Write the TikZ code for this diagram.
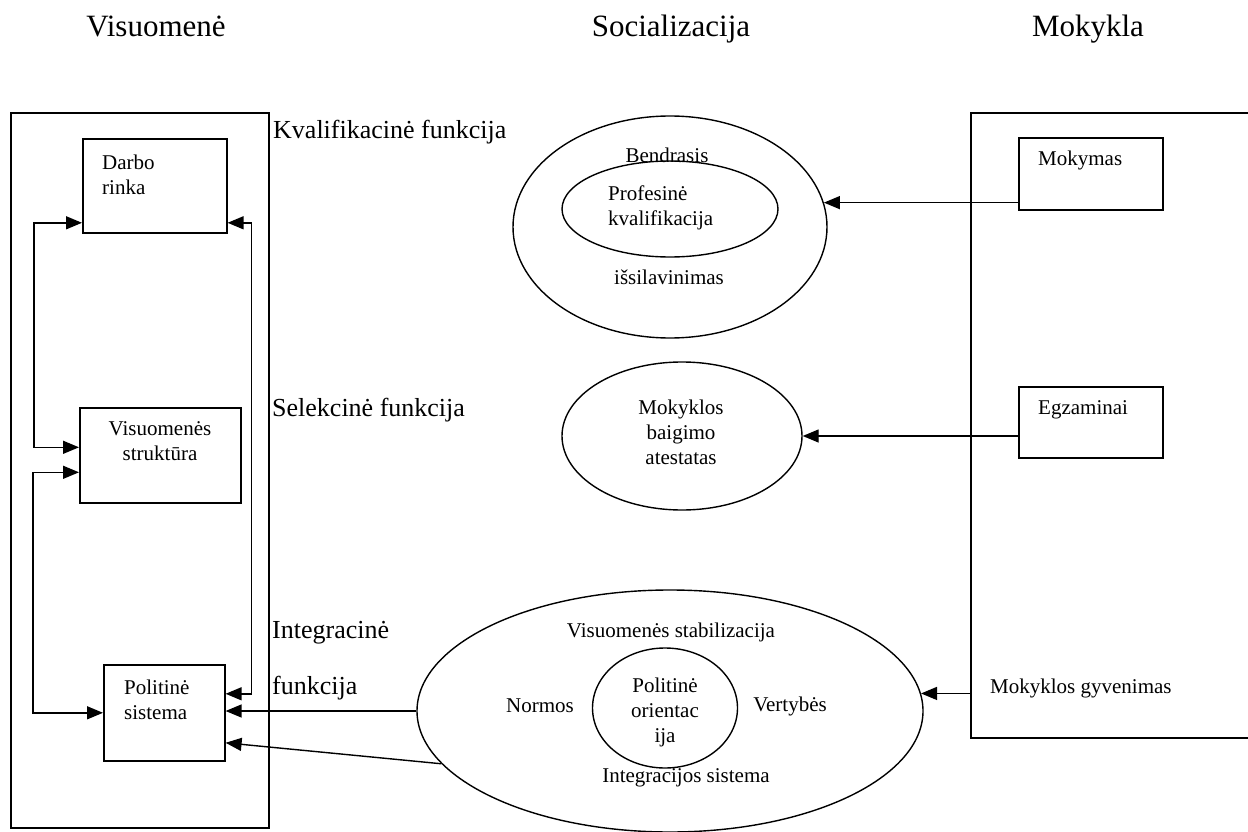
\documentclass[tikz,border=0pt]{standalone}
\usepackage{fontspec}
\setmainfont{Liberation Serif}
\usetikzlibrary{shapes.geometric,arrows.meta}
\begin{document}
\begin{tikzpicture}[x=1pt,y=-1pt,
 box/.style={draw, line width=1.6pt, inner sep=0pt, anchor=north west},
 oval/.style={draw, ellipse, line width=1.4pt, inner sep=0pt},
 body/.style={font=\fontsize{21}{25}\selectfont, inner sep=0pt},
 side/.style={font=\fontsize{26}{30}\selectfont, inner sep=0pt, anchor=west},
 ttl/.style={font=\fontsize{31}{36}\selectfont, inner sep=0pt, anchor=base},
 arr/.style={line width=1.4pt, -{Triangle[length=16pt,width=13pt]}},
 darr/.style={line width=1.4pt, {Triangle[length=16pt,width=13pt]}-{Triangle[length=16pt,width=13pt]}},
]
\useasboundingbox (0,0) rectangle (1248,832);
\clip (0,0) rectangle (1248,832);

% titles
\node[ttl] (t1) at (156,37) {Visuomenė};
\node[ttl] (t2) at (671,37) {Socializacija};
\node[ttl] (t3) at (1088,37) {Mokykla};

% boxes
\node[box, minimum width=258pt, minimum height=715pt] (lb) at (10,112) {};
\node[box, minimum width=144pt, minimum height=94pt] (darbo) at (82,138) {};
\node[box, minimum width=161pt, minimum height=95pt] (vs) at (79,407) {};
\node[box, minimum width=121pt, minimum height=96pt] (pol) at (103,664) {};
\node[box, minimum width=320pt, minimum height=625pt] (rb) at (970,112) {};
\node[box, minimum width=144pt, minimum height=72pt] (mok) at (1018,137) {};
\node[box, minimum width=144pt, minimum height=71pt] (egz) at (1018,386) {};

% ellipses
\node[oval, minimum width=314pt, minimum height=222pt] (bend) at (670,227) {};
\node[oval, minimum width=216pt, minimum height=96pt] (prof) at (670,209) {};
\node[oval, minimum width=240pt, minimum height=148pt] (mid) at (682,436) {};
\node[oval, minimum width=506pt, minimum height=242pt] (integ) at (670,711) {};
\node[oval, minimum width=145pt, minimum height=120pt] (porient) at (665,708) {};

% side labels
\node[side] (kf) at (273,132) {Kvalifikacinė funkcija};
\node[side] (sf) at (272,410) {Selekcinė funkcija};
\node[side] (if1) at (272,633) {Integracinė};
\node[side] (if2) at (272,688) {funkcija};

% texts
\node[body, align=left, anchor=west] (dt) at (102,175) {Darbo\\rinka};
\node[body, align=center] (vst) at (160,441) {Visuomenės\\struktūra};
\node[body, align=left, anchor=west] (pst) at (124,700) {Politinė\\sistema};
\node[body, anchor=west] (mt) at (1038,160) {Mokymas};
\node[body, anchor=west] (et) at (1038,410) {Egzaminai};
\node[body] (bt) at (667,155) {Bendrasis};
\node[body, align=left, anchor=west] (pkt) at (608,208) {Profesinė\\kvalifikacija};
\node[body] (it) at (669,277) {išsilavinimas};
\node[body, align=center] (mbt) at (681,432) {Mokyklos\\baigimo\\atestatas};
\node[body] (vsz) at (671,632) {Visuomenės stabilizacija};
\node[body] (nt) at (540,706) {Normos};
\node[body] (vt) at (790,706) {Vertybės};
\node[body, align=center] (pot) at (665,712) {Politinė\\orientac\\ija};
\node[body] (ist) at (686,778) {Integracijos sistema};
\node[body, anchor=west] (mgt) at (990,688) {Mokyklos gyvenimas};

% connectors
\draw[arr] (mok.west |- bend.9) -- (bend.9);
\draw[arr] (egz.west |- mid.east) -- (mid.east);
\draw[arr] (rb.west |- integ.4) -- (integ.4);
\draw[arr] (integ.west) -- (pol.east |- integ.west);
\draw[arr] (integ.193) -- ([yshift=-30pt]pol.east);
\draw[darr] ([yshift=19pt]pol.east) -- ++(26,0) |- ([yshift=-37pt]darbo.east);
\draw[darr] ([yshift=-37pt]darbo.west) -- ++(-48,0) |- ([yshift=8pt]vs.west);
\draw[darr] ([yshift=-17pt]vs.west) -- ++(-46,0) |- (pol.west);
\end{tikzpicture}
\end{document}
